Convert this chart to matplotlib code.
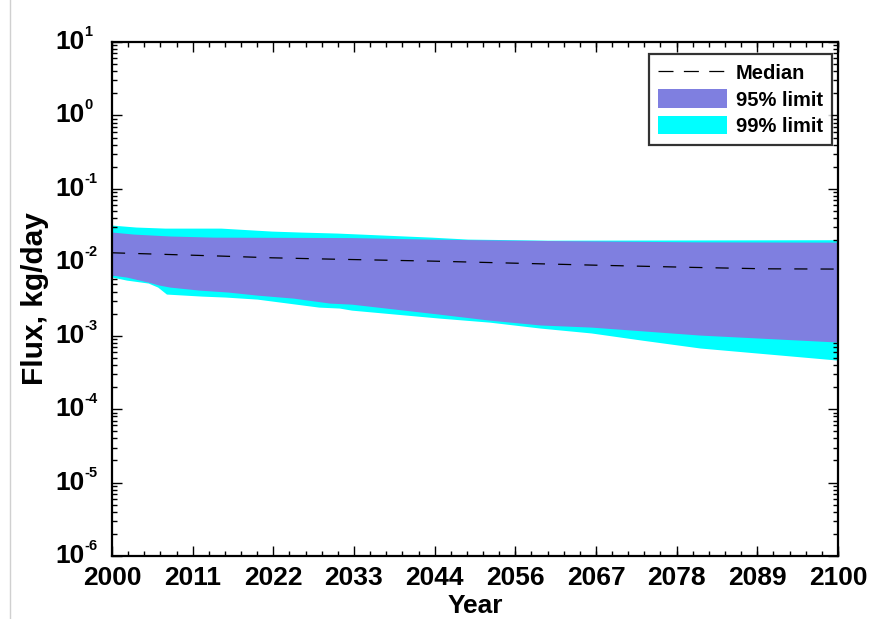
import numpy as np
import matplotlib
matplotlib.use("Agg")
import matplotlib.pyplot as plt
import matplotlib.transforms as mtransforms
from matplotlib.ticker import FixedLocator, AutoMinorLocator, LogLocator, NullFormatter
from matplotlib.patches import Patch
from matplotlib.lines import Line2D

# ---------------- data ----------------
up99_years = [2000, 2003.3, 2007.3, 2015, 2022, 2026, 2031, 2044, 2049, 2060, 2100]
up99_vals = [0.0321, 0.0302, 0.0292, 0.0292, 0.0266, 0.0258, 0.0250, 0.0220, 0.0207, 0.0200, 0.0203]

up95_years = [2000, 2003, 2008, 2014, 2033, 2044, 2055, 2080, 2100]
up95_vals = [0.0258, 0.0242, 0.0228, 0.0220, 0.0217, 0.0207, 0.0200, 0.0190, 0.0188]

med_years = [2000, 2015, 2022, 2030, 2044, 2066, 2080, 2090, 2100]
med_vals = [0.01347, 0.01215, 0.01151, 0.01105, 0.01038, 0.00916, 0.00852, 0.00815, 0.00808]

lo95_years = [2000, 2002, 2005, 2006.5, 2008, 2012, 2016, 2020, 2025, 2030, 2033,
              2045, 2052, 2059, 2066, 2081, 2100]
lo95_vals = [0.00669, 0.00629, 0.00537, 0.00489, 0.00459, 0.00418, 0.00393, 0.00357,
             0.00325, 0.00278, 0.00269, 0.00197, 0.00163, 0.00140, 0.00131, 0.00102, 0.00082]

lo99_years = [2000, 2002, 2005, 2006.3, 2007.5, 2012.4, 2015.6, 2020, 2028.5, 2031.3, 2033,
              2045, 2052, 2059, 2066, 2073, 2081, 2100]
lo99_vals = [0.00629, 0.00572, 0.00521, 0.00459, 0.00369, 0.00346, 0.00336, 0.00315,
             0.00245, 0.00238, 0.00223, 0.00174, 0.00153, 0.00127, 0.00109, 0.00087,
             0.00068, 0.000465]

xtick_vals = [2000, 2011.11, 2022.22, 2033.33, 2044.44, 2055.56, 2066.67, 2077.78, 2088.89, 2100]
xtick_labels = ["2000", "2011", "2022", "2033", "2044", "2056", "2067", "2078", "2089", "2100"]
ytick_exps = [-6, -5, -4, -3, -2, -1, 0, 1]

# ---------------- style ----------------
plt.rcParams["font.family"] = ["Liberation Sans", "DejaVu Sans"]
plt.rcParams["font.weight"] = "bold"

C95 = "#7f7fe0"
C99 = "#00ffff"

W, H = 878, 619
fig = plt.figure(figsize=(W / 100, H / 100), dpi=100)
ax = fig.add_axes([112 / W, 1 - 556 / H, (838 - 112) / W, (556 - 42) / H])

yrs = np.array(sorted(set(up99_years) | set(up95_years) | set(lo95_years) | set(lo99_years)))
def interp_log(xs, vs, grid):
    return 10 ** np.interp(grid, xs, np.log10(vs))

u99 = interp_log(up99_years, up99_vals, yrs)
u95 = interp_log(up95_years, up95_vals, yrs)
l95 = interp_log(lo95_years, lo95_vals, yrs)
l99 = interp_log(lo99_years, lo99_vals, yrs)

ax.fill_between(yrs, l99, u99, color=C99, lw=0, zorder=1)
ax.fill_between(yrs, l95, u95, color=C95, lw=0, zorder=2)
med_line, = ax.plot(med_years, med_vals, color="black", lw=0.9, zorder=3)
med_line.set_dashes((10.5, 10.5))

ax.set_yscale("log")
ax.set_xlim(2000, 2100)
ax.set_ylim(1e-6, 1e1)

ax.xaxis.set_major_locator(FixedLocator(xtick_vals))
ax.set_xticklabels(xtick_labels, fontsize=19, fontweight="bold")
ax.xaxis.set_minor_locator(AutoMinorLocator(5))

ax.yaxis.set_major_locator(FixedLocator([10.0 ** e for e in ytick_exps]))
ax.set_yticklabels([""] * len(ytick_exps))
ax.yaxis.set_minor_locator(LogLocator(base=10, subs=np.arange(2, 10), numticks=20))
ax.yaxis.set_minor_formatter(NullFormatter())

ax.tick_params(which="both", direction="in", top=True, right=True, width=1.0, color="black")
ax.tick_params(which="major", length=7)
ax.tick_params(axis="x", which="major", pad=7)
ax.tick_params(which="minor", length=3.5)
for s in ax.spines.values():
    s.set_linewidth(1.6)
    s.set_zorder(5)

# y tick labels: "10" with a small superscript exponent
ytr = ax.get_yaxis_transform()
base_tr = ytr + mtransforms.ScaledTranslation(-27 / 100, 0, fig.dpi_scale_trans)
exp_tr = ytr + mtransforms.ScaledTranslation(-28 / 100, 10 / 100, fig.dpi_scale_trans)
for e in ytick_exps:
    ax.text(0, 10.0 ** e, "10", transform=base_tr, ha="right", va="center",
            fontsize=19, fontweight="bold", clip_on=False)
    ax.text(0, 10.0 ** e, str(e), transform=exp_tr, ha="left",
            va="center", fontsize=10.5, fontweight="bold", clip_on=False)

ax.set_xlabel("Year", fontsize=19, fontweight="bold", labelpad=3)
ax.set_ylabel("Flux, kg/day", fontsize=21.5, fontweight="bold", labelpad=42)

handles = [
    Line2D([0], [0], color="black", lw=0.9, dashes=(12.0, 8.3)),
    Patch(facecolor=C95, edgecolor="none"),
    Patch(facecolor=C99, edgecolor="none"),
]
leg = ax.legend(handles, ["Median", "95% limit", "99% limit"], loc="upper right",
                bbox_to_anchor=((832 - 112) / 726, 1 - (54 - 42) / 514),
                borderaxespad=0.0,
                prop={"weight": "bold", "size": 14.5}, frameon=True, fancybox=False,
                handlelength=3.4, handleheight=1.05, labelspacing=0.3,
                handletextpad=0.45, borderpad=0.45)
leg.get_frame().set_edgecolor("black")
leg.get_frame().set_linewidth(1.6)

fig.add_artist(Line2D([10 / W, 10 / W], [0, 1], color="#d0d0d0", lw=1))

fig.savefig("out.png", dpi=100)
